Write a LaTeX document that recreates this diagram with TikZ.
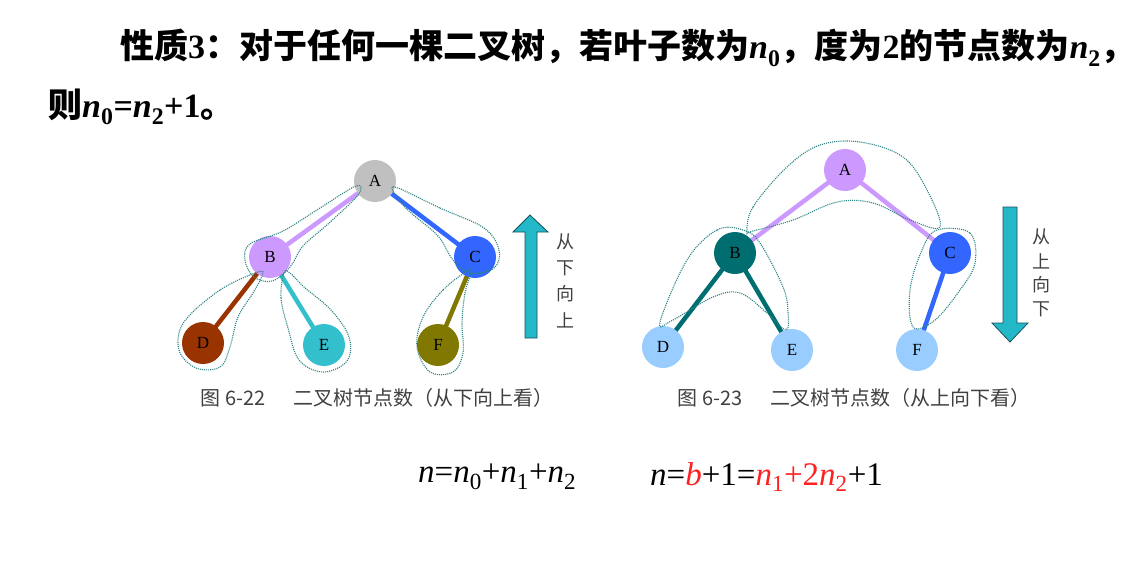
\documentclass[tikz,border=0pt]{standalone}
\usepackage{fontspec}
\setmainfont{Liberation Serif}
\newfontfamily\cjk{Noto Sans CJK SC}
\usetikzlibrary{backgrounds}
\definecolor{cGray}{HTML}{C0C0C0}
\definecolor{cLav}{HTML}{CC99FF}
\definecolor{cBlue}{HTML}{3366FF}
\definecolor{cBrown}{HTML}{993300}
\definecolor{cTeal}{HTML}{33C0CC}
\definecolor{cOlive}{HTML}{807800}
\definecolor{cDTeal}{HTML}{006E70}
\definecolor{cLBlue}{HTML}{99CCFF}
\definecolor{cLoop}{HTML}{2E8585}
\definecolor{cArrow}{HTML}{22B8C8}
\definecolor{cArrowLine}{HTML}{1F4F5A}
\definecolor{cRed}{HTML}{FF2020}
\definecolor{cCap}{HTML}{404040}
\newcommand\nsub[1]{\textit{n}\textsubscript{#1}}
\newcommand\bnum[1]{{\rmfamily\bfseries #1}}
\tikzset{
  tn/.style={circle, minimum size=42pt, inner sep=0pt, font=\fontsize{17}{17}\selectfont},
  tedge/.style={line width=4.5pt},
  lp/.style={draw=cLoop, densely dotted, line width=1.1pt},
  bigarrow/.style={fill=cArrow, draw=cArrowLine, line width=0.8pt},
  vtext/.style={font=\cjk\fontsize{18}{18}\selectfont, text=cCap, inner sep=0pt},
  captext/.style={font=\cjk\fontsize{20}{20}\selectfont, text=cCap, inner sep=0pt},
  formula/.style={font=\fontsize{33}{33}\selectfont, inner sep=0pt, anchor=west},
  titletext/.style={font=\cjk\bfseries\fontsize{34}{34}\selectfont, inner sep=0pt, anchor=west}
}
\begin{document}
\begin{tikzpicture}[x=1pt,y=-1pt]
\useasboundingbox (0,0) rectangle (1145,563);

% title
\node[titletext] (t1) at (120,48) {性质\bnum{3}：对于任何一棵二叉树，若叶子数为\bnum{\nsub{0}}，度为\bnum{2}的节点数为\bnum{\nsub{2}}，};
\node[titletext] (t2) at (48,107) {则\bnum{\nsub{0}=\nsub{2}+1}。};

% left tree
\node[tn, fill=cGray] (lA) at (375,181) {A};
\node[tn, fill=cLav] (lB) at (270,257) {B};
\node[tn, fill=cBlue] (lC) at (475,257) {C};
\node[tn, fill=cBrown] (lD) at (203,343) {D};
\node[tn, fill=cTeal] (lE) at (324,345) {E};
\node[tn, fill=cOlive] (lF) at (438,345) {F};
\begin{scope}[on background layer]
\draw[tedge, cLav] (lA.center) -- (lB.center);
\draw[tedge, cBlue] (lA.center) -- (lC.center);
\draw[tedge, cBrown] (lB.center) -- (lD.center);
\draw[tedge, cTeal] (lB.center) -- (lE.center);
\draw[tedge, cOlive] (lC.center) -- (lF.center);
\end{scope}
% left loops
\draw[lp] plot[smooth cycle, tension=0.6] coordinates {(356,186) (320,208) (283,231) (250,244) (245,260) (254,277) (272,281) (290,267) (303,246) (328,224) (358,195)};
\draw[lp] plot[smooth cycle, tension=0.6] coordinates {(395,187) (440,208) (484,228) (499,250) (494,268) (470,273) (453,260) (438,236) (410,212) (397,197)};
\draw[lp] plot[smooth cycle, tension=0.6] coordinates {(258,272) (220,290) (184,322) (179,350) (196,368) (220,367) (230,347) (238,317) (253,293) (262,276)};
\draw[lp] plot[smooth cycle, tension=0.6] coordinates {(284,273) (281,298) (288,328) (299,360) (323,372) (347,361) (349,337) (331,310) (304,287) (290,273)};
\draw[lp] plot[smooth cycle, tension=0.6] coordinates {(467,271) (443,290) (423,317) (417,347) (430,372) (453,372) (463,353) (462,323) (465,293) (471,272)};

% up arrow
\draw[bigarrow] (530,215) -- (548,232) -- (537,232) -- (537,338) -- (525,338) -- (525,232) -- (513,232) -- cycle;
\node[vtext] (u1) at (565,242) {从};
\node[vtext] (u2) at (565,268) {下};
\node[vtext] (u3) at (565,294) {向};
\node[vtext] (u4) at (565,320) {上};
\node[captext] (cap1) at (377,398) {图 6-22\quad\, 二叉树节点数（从下向上看）};

% right tree
\node[tn, fill=cLav] (rA) at (845,170) {A};
\node[tn, fill=cDTeal] (rB) at (735,253) {B};
\node[tn, fill=cBlue] (rC) at (950,253) {C};
\node[tn, fill=cLBlue] (rD) at (663,347) {D};
\node[tn, fill=cLBlue] (rE) at (792,350) {E};
\node[tn, fill=cLBlue] (rF) at (917,350) {F};
\begin{scope}[on background layer]
\draw[tedge, cLav] (rA.center) -- (rB.center);
\draw[tedge, cLav] (rA.center) -- (rC.center);
\draw[tedge, cDTeal] (rB.center) -- (rD.center);
\draw[tedge, cDTeal] (rB.center) -- (rE.center);
\draw[tedge, cBlue] (rC.center) -- (rF.center);
\end{scope}
% right loops
\draw[lp] plot[smooth cycle, tension=0.6] coordinates {(747,232) (753,207) (787,167) (820,145) (860,142) (903,157) (927,190) (940,227) (910,220) (873,203) (837,202) (793,220) (753,231)};
\draw[lp] plot[smooth cycle, tension=0.6] coordinates {(743,230) (717,230) (687,260) (660,322) (673,320) (713,297) (740,293) (767,313) (786,330) (788,312) (783,287) (760,243)};
\draw[lp] plot[smooth cycle, tension=0.6] coordinates {(937,230) (970,233) (975,263) (960,290) (935,320) (913,327) (910,290) (922,250)};

% down arrow
\draw[bigarrow] (1003,207) -- (1017,207) -- (1017,323) -- (1028,323) -- (1010,342) -- (992,323) -- (1003,323) -- cycle;
\node[vtext] (d1) at (1041,237) {从};
\node[vtext] (d2) at (1041,261) {上};
\node[vtext] (d3) at (1041,285) {向};
\node[vtext] (d4) at (1041,309) {下};
\node[captext] (cap2) at (854,398) {图 6-23\quad\, 二叉树节点数（从上向下看）};

% formulas
\node[formula] (f1) at (418,477) {\textit{n}=\nsub{0}+\nsub{1}+\nsub{2}};
\node[formula] (f2) at (650,477) {\textit{n}={\color{cRed}\textit{b}}+1={\color{cRed}\nsub{1}+2\nsub{2}}+1};
\end{tikzpicture}
\end{document}
